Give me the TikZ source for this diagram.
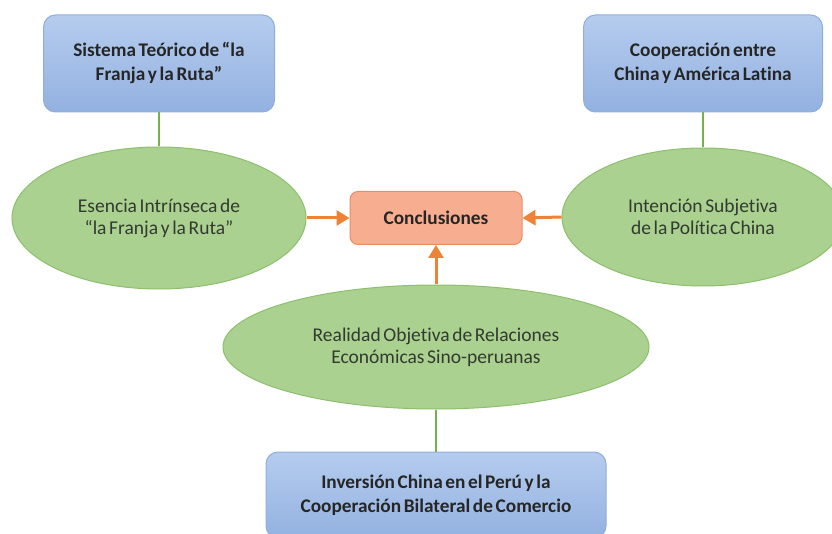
\documentclass[tikz,border=0pt]{standalone}
\usepackage{fontspec}
\setmainfont[Ligatures={NoCommon},WordSpace=0.6]{Carlito}
\usetikzlibrary{shapes.geometric,arrows.meta}
\definecolor{bluefillT}{HTML}{B5CCEE}
\definecolor{bluefillB}{HTML}{93B1E0}
\definecolor{blueline}{HTML}{8FAEDC}
\definecolor{greenfill}{HTML}{AAD18F}
\definecolor{greenline}{HTML}{8CC06C}
\definecolor{greenconn}{HTML}{76B04E}
\definecolor{orangeA}{HTML}{EE8236}
\definecolor{concfill}{HTML}{F7AE90}
\definecolor{concline}{HTML}{EC8C63}
\definecolor{txt}{HTML}{262626}
\definecolor{etxt}{HTML}{333A30}
\begin{document}
\begin{tikzpicture}[x=1pt,y=-1pt,
  bluebox/.style={rectangle, rounded corners=12pt, draw=blueline, line width=1pt,
    top color=bluefillT, bottom color=bluefillB, align=center,
    font=\fontsize{19.3}{24}\selectfont\bfseries, text=txt, inner sep=0pt},
  greenell/.style={ellipse, draw=greenline, line width=1pt, fill=greenfill,
    align=center, font=\fontsize{19.5}{22}\selectfont, text=etxt, inner sep=0pt},
  concbox/.style={rectangle, rounded corners=8pt, draw=concline, line width=1pt,
    fill=concfill, font=\fontsize{19.3}{22}\selectfont\bfseries, text=txt, inner sep=0pt},
  gconn/.style={draw=greenconn, line width=2.2pt},
  oarrow/.style={draw=orangeA, line width=3pt, -{Triangle[length=13pt,width=15pt]}}
]
\clip (0,0) rectangle (832,534);
\fill[white] (0,0) rectangle (832,534);

\node[bluebox, minimum width=231pt, minimum height=97pt] (tl) at (159,63.5)
  {Sistema Teórico de “la\\Franja y la Ruta”};
\node[bluebox, minimum width=239pt, minimum height=97pt] (tr) at (703,63.5)
  {Cooperación entre\\China y América Latina};
\node[greenell, minimum width=294pt, minimum height=142pt] (el) at (159,218)
  {Esencia Intrínseca de\\“la Franja y la Ruta”};
\node[greenell, minimum width=282pt, minimum height=138pt] (er) at (703,217)
  {Intención Subjetiva\\de la Política China};
\node[concbox, minimum width=172pt, minimum height=53pt] (conc) at (436,218)
  {Conclusiones};
\node[greenell, minimum width=426pt, minimum height=124pt] (em) at (436,347)
  {Realidad Objetiva de Relaciones\\Económicas Sino-peruanas};
\node[bluebox, minimum width=340pt, minimum height=86pt] (bot) at (436,495)
  {Inversión China en el Perú y la\\Cooperación Bilateral de Comercio};

\draw[gconn] (tl.south) -- (el.north);
\draw[gconn] (tr.south) -- (er.north);
\draw[gconn] (em.south) -- (bot.north);
\draw[oarrow] (el.east) -- (conc.west);
\draw[oarrow] (er.west) -- (conc.east);
\draw[oarrow] (em.north) -- (conc.south);
\end{tikzpicture}
\end{document}
